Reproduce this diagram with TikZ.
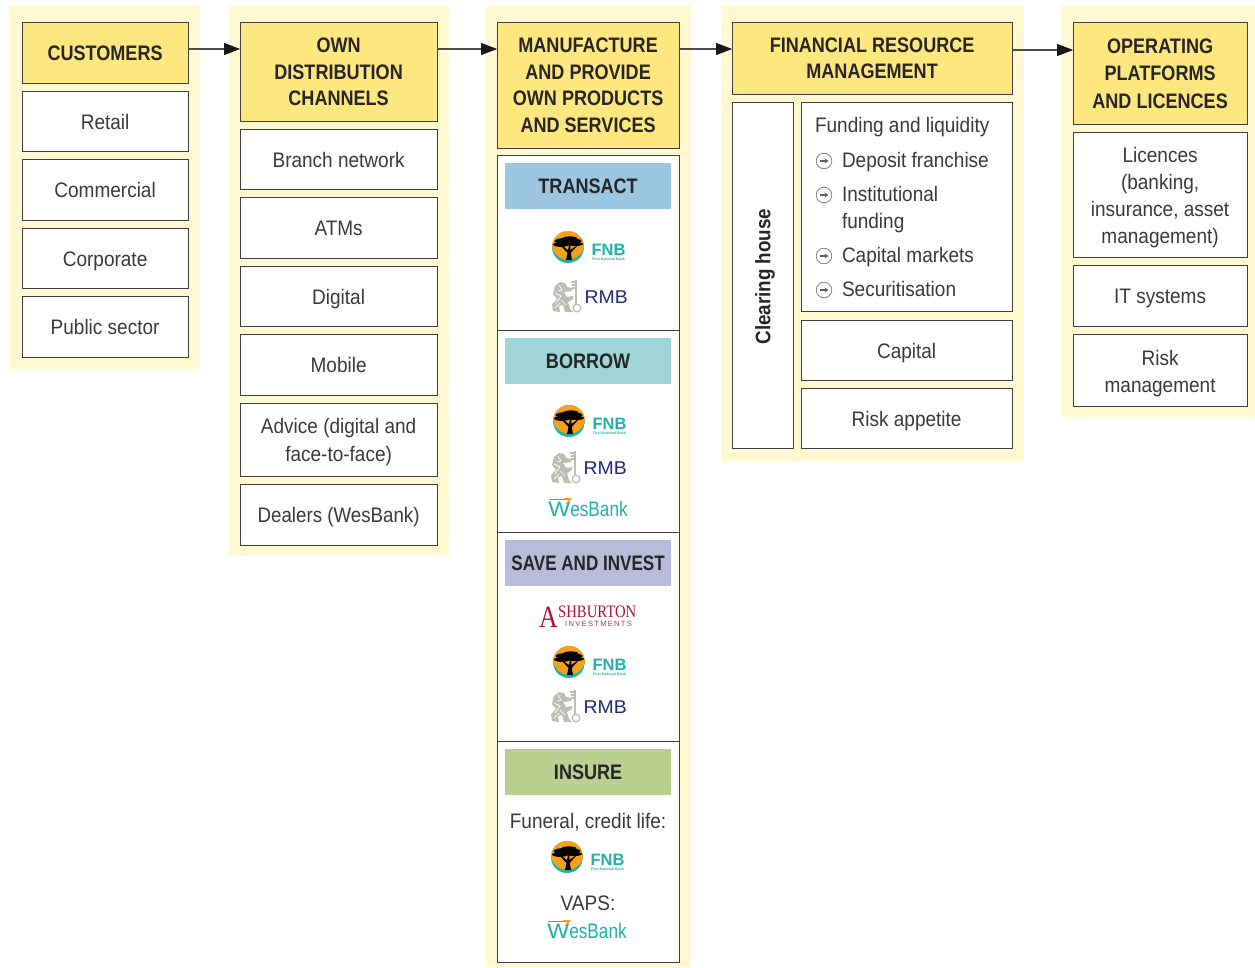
\documentclass[tikz,border=0pt]{standalone}
\usepackage{graphicx}
\usepackage{fontspec}
\setmainfont{Liberation Sans}[FakeStretch=0.905]
\newfontfamily\headfont{Liberation Sans}[FakeStretch=0.86]
\newfontfamily\plainsans{Liberation Sans}
\newfontfamily\logoserif{Liberation Serif}
\usetikzlibrary{arrows.meta}
\definecolor{creambg}{HTML}{FFF8D0}
\definecolor{headyellow}{HTML}{FFE77F}
\definecolor{edgegrey}{HTML}{3F3F3F}
\definecolor{inkgrey}{HTML}{3A3A3A}
\definecolor{fnbteal}{HTML}{1FB3AC}
\definecolor{fnborange}{HTML}{F7A11A}
\definecolor{rmbnavy}{HTML}{1F2A7A}
\definecolor{liongrey}{HTML}{BDBDB5}
\definecolor{ashred}{HTML}{A8143F}
\definecolor{bulletgrey}{HTML}{777777}
\tikzset{
  x=1pt,y=-1pt,
  bgpanel/.style={fill=creambg,draw=none},
  framebox/.style={draw=edgegrey,line width=0.9pt,fill=white,inner sep=0pt,outer sep=0pt},
  bodytext/.style={inner sep=0pt,outer sep=0pt,align=center,text=inkgrey,font=\fontsize{21}{27}\selectfont,execute at begin node=\strut,execute at end node=\strut,yshift=-2.5pt},
  headbox/.style={framebox,fill=headyellow},
  headtext/.style={inner sep=0pt,outer sep=0pt,align=center,text=black!85,font=\headfont\bfseries\fontsize{21}{26.5}\selectfont,yshift=-0.4pt},
  bandbox/.style={draw=none,inner sep=0pt,outer sep=0pt},
  plaintext/.style={inner sep=0pt,outer sep=0pt,text=inkgrey,font=\fontsize{21}{27}\selectfont},
  flow/.style={draw=black!70,line width=1.1pt,-{Triangle[length=16pt,width=12pt,black!90]}},
  fnblogo/.pic={
    \begin{scope}
      \clip (0,0) circle (16);
      \fill[fnbteal] (-16,-16) rectangle (16,16);
      \fill[fnborange] (0,-3.5) circle (16.2);
    \end{scope}
    \fill[black] (0,-6) ellipse[x radius=13.5,y radius=3.2];
    \fill[black] (-7,-2.5) ellipse[x radius=8,y radius=2.4];
    \fill[black] (7,-3) ellipse[x radius=8,y radius=2];
    \fill[black] (2,-9) ellipse[x radius=7,y radius=1.6];
    \fill[black] (-2,13) -- (-0.5,6) -- (-7,-1) -- (-5.5,-1) -- (0,3) -- (1,-2) -- (2.5,-2) -- (2.2,3) -- (8,-1) -- (9,-1) -- (2.8,6) -- (4,13) -- cycle;
    \node[inner sep=0pt,text=fnbteal,font=\plainsans\bfseries\fontsize{16.5}{16.5}\selectfont] at (40.5,3) {FNB};
    \node[inner sep=0pt,text=fnbteal,font=\plainsans\bfseries\fontsize{3.6}{4}\selectfont] at (40.5,12) {First National Bank};
  },
  rmblogo/.pic={
    \fill[liongrey] (-14,14) -- (-15,7) -- (-10,2) -- (-14,-3) -- (-12,-11) -- (-7,-15) -- (-2,-14) -- (0,-10) -- (5,-9) -- (5,-6) -- (-3,-5) -- (0,0) -- (6,-1) -- (6,2) -- (1,5) -- (3,12) -- (6,15) -- (-2,15) -- (-4,8) -- (-8,9) -- (-7,15) -- cycle;
    \draw[white,line width=0.7pt] (-12,-4) -- (-6,-1) -- (-11,6) (-8,-12) -- (-5,-7) -- (-9,-6) (-6,3) -- (-1,8) (-12,11) -- (-7,6);
    \draw[liongrey,line width=1.6pt] (9,-17) -- (9,7);
    \draw[liongrey,line width=1.3pt] (10,11) circle (3.8);
    \draw[liongrey,line width=1.4pt] (4,-15) -- (9,-15) (5,-12) -- (9,-12) (5,-9) -- (9,-9);
    \node[inner sep=0pt,anchor=west,text=rmbnavy,font=\plainsans\fontsize{18.5}{18.5}\selectfont] at (17.5,0.5) {\scalebox{1.05}[1]{RMB}};
  },
  wesbanklogo/.pic={
    \node[inner sep=0pt,text=fnbteal,font=\plainsans\fontsize{21}{21}\selectfont] at (0,0.5) {\scalebox{0.82}[1]{\scalebox{1.35}[1]{W}esBank}};
    \fill[fnbteal] (-39.5,-9.5) -- (-19,-9.5) -- (-19,-8) -- (-39.5,-8) -- cycle;
    \fill[fnborange] (-24,-10) -- (-16,-10) -- (-21,-4) -- (-22.5,-4) -- (-19.5,-8.3) -- (-24,-8.3) -- cycle;
  },
  ashlogo/.pic={
    \node[inner sep=0pt,text=ashred,font=\logoserif\fontsize{31}{31}\selectfont] at (-40.5,1) {\scalebox{0.83}[1]{A}};
    \node[inner sep=0pt,text=ashred,anchor=west,font=\logoserif\fontsize{17.5}{17.5}\selectfont] at (-31,-4.5) {\scalebox{0.84}[1]{SHBURTON}};
    \node[inner sep=0pt,text=ashred!85,anchor=west,font=\plainsans\fontsize{7.6}{7.6}\selectfont] at (-24,7.5) {I\,N\,V\,E\,S\,T\,M\,E\,N\,T\,S};
  },
  bulletmark/.pic={
    \draw[bulletgrey,line width=0.7pt] (0,0) circle (7.8);
    \draw[bulletgrey!80!black,line width=1.2pt,-{Stealth[length=4pt,width=5pt]}] (-4.5,0) -- (4.5,0);
  },
}
% box with centred text: style of box, name, x0, y0, x1, y1, text style, text
\newcommand{\bx}[8]{\node[#1,minimum width=#5-#3,minimum height=#6-#4,anchor=north west,xshift=0.1pt,yshift=-0.1pt] (#2) at (#3,#4) {};
  \node[#7] (#2text) at (#2.center) {#8};}
\newcommand{\plainbx}[6]{\node[#1,minimum width=#5-#3,minimum height=#6-#4,anchor=north west,xshift=0.1pt,yshift=-0.1pt] (#2) at (#3,#4) {};}
\begin{document}
\begin{tikzpicture}
\useasboundingbox (0,0) rectangle (1255,967);
\fill[white] (0,0) rectangle (1255,967);
% cream panels
\fill[bgpanel] (10,6) rectangle (200,369);
\fill[bgpanel] (229,6) rectangle (449,556);
\fill[bgpanel] (486,6) rectangle (691,967);
\fill[bgpanel] (721,6) rectangle (1024,461);
\fill[bgpanel] (1061,6) rectangle (1255,417);
% column 1
\bx{headbox}{cust}{22}{22}{188}{83}{headtext}{CUSTOMERS}
\bx{framebox}{retail}{22}{91}{188}{151}{bodytext}{Retail}
\bx{framebox}{commercial}{22}{159}{188}{220}{bodytext}{Commercial}
\bx{framebox}{corporate}{22}{228}{188}{288}{bodytext}{Corporate}
\bx{framebox}{public}{22}{296}{188}{357}{bodytext}{Public sector}
% column 2
\bx{headbox}{channels}{240}{22}{437}{121}{headtext}{OWN\\DISTRIBUTION\\CHANNELS}
\bx{framebox}{branch}{240}{129}{437}{189}{bodytext}{Branch network}
\bx{framebox}{atms}{240}{197}{437}{258}{bodytext}{ATMs}
\bx{framebox}{digital}{240}{266}{437}{326}{bodytext}{Digital}
\bx{framebox}{mobile}{240}{334}{437}{395}{bodytext}{Mobile}
\bx{framebox}{advice}{240}{403}{437}{476}{bodytext,yshift=-1.6pt}{Advice (digital and\\[1pt]face-to-face)}
\bx{framebox}{dealers}{240}{484}{437}{545}{bodytext}{\scalebox{0.985}[1]{Dealers (WesBank)}}
% column 3
\bx{headbox}{manufacture}{497}{22}{679}{148}{headtext}{MANUFACTURE\\AND PROVIDE\\OWN PRODUCTS\\AND SERVICES}
\plainbx{framebox}{ptransact}{497}{155}{679}{330}
\plainbx{framebox}{pborrow}{497}{330}{679}{532}
\plainbx{framebox}{psave}{497}{532}{679}{741}
\plainbx{framebox}{pinsure}{497}{741}{679}{962}
\bx{bandbox,fill={rgb,255:red,157;green,198;blue,227}}{transact}{505}{163}{671}{209}{headtext}{TRANSACT}
\bx{bandbox,fill={rgb,255:red,159;green,213;blue,214}}{borrow}{505}{338}{671}{384}{headtext}{BORROW}
\bx{bandbox,fill={rgb,255:red,185;green,188;blue,216}}{save}{505}{540}{671}{586}{headtext}{\scalebox{0.945}[1]{SAVE AND INVEST}}
\bx{bandbox,fill={rgb,255:red,187;green,207;blue,144}}{insure}{505}{749}{671}{795}{headtext}{INSURE}
\pic at (568,247) {fnblogo};
\pic at (567,297) {rmblogo};
\pic at (569,421) {fnblogo};
\pic at (566,468) {rmblogo};
\pic at (588,508) {wesbanklogo};
\pic at (589,616) {ashlogo};
\pic at (569,662) {fnblogo};
\pic at (566,707) {rmblogo};
\node[plaintext] (funeral) at (588,822) {Funeral, credit life:};
\pic at (567,857) {fnblogo};
\node[plaintext] (vaps) at (588,903) {VAPS:};
\pic at (587,930) {wesbanklogo};
% column 4
\bx{headbox}{finance}{732}{22}{1012}{94}{headtext}{FINANCIAL RESOURCE\\MANAGEMENT}
\plainbx{framebox}{clearingbox}{732}{102}{793}{448}
\node[inner sep=0pt,rotate=90,text=black!85,font=\fontsize{21}{26}\selectfont\bfseries,xshift=-1.5pt,yshift=-2.5pt] (clearing) at (clearingbox.center) {\scalebox{0.99}[1]{Clearing house}};
\plainbx{framebox}{funding}{801}{102}{1012}{311}
\node[plaintext,anchor=base west] (fundhead) at (815,132) {Funding and liquidity};
\node[plaintext,anchor=base west] (fund1) at (842,167) {Deposit franchise};
\node[plaintext,anchor=base west] (fund2) at (842,201) {Institutional};
\node[plaintext,anchor=base west] (fund2b) at (842,228) {funding};
\node[plaintext,anchor=base west] (fund3) at (842,262) {Capital markets};
\node[plaintext,anchor=base west] (fund4) at (842,296) {Securitisation};
\pic at (824,161) {bulletmark};
\pic at (824,195) {bulletmark};
\pic at (824,256) {bulletmark};
\pic at (824,290) {bulletmark};
\bx{framebox}{capital}{801}{320}{1012}{380}{bodytext}{Capital}
\bx{framebox}{appetite}{801}{388}{1012}{448}{bodytext}{Risk appetite}
% column 5
\bx{headbox}{platforms}{1073}{22}{1247}{124}{headtext}{OPERATING\\[1pt]PLATFORMS\\[1pt]AND LICENCES}
\bx{framebox}{licences}{1073}{132}{1247}{257}{bodytext,yshift=-2pt}{Licences\\(banking,\\insurance, asset\\management)}
\bx{framebox}{itsys}{1073}{265}{1247}{326}{bodytext}{IT systems}
\bx{framebox}{riskman}{1073}{334}{1247}{406}{bodytext,yshift=-3pt}{Risk\\management}
% flow arrows
\coordinate (lineA) at (0,49);
\coordinate (lineB) at (0,50);
\draw[flow] (cust.east |- lineA) -- (channels.west |- lineA);
\draw[flow] (channels.east |- lineA) -- (manufacture.west |- lineA);
\draw[flow] (manufacture.east |- lineA) -- (finance.west |- lineA);
\draw[flow] (finance.east |- lineB) -- (platforms.west |- lineB);
\end{tikzpicture}
\end{document}
